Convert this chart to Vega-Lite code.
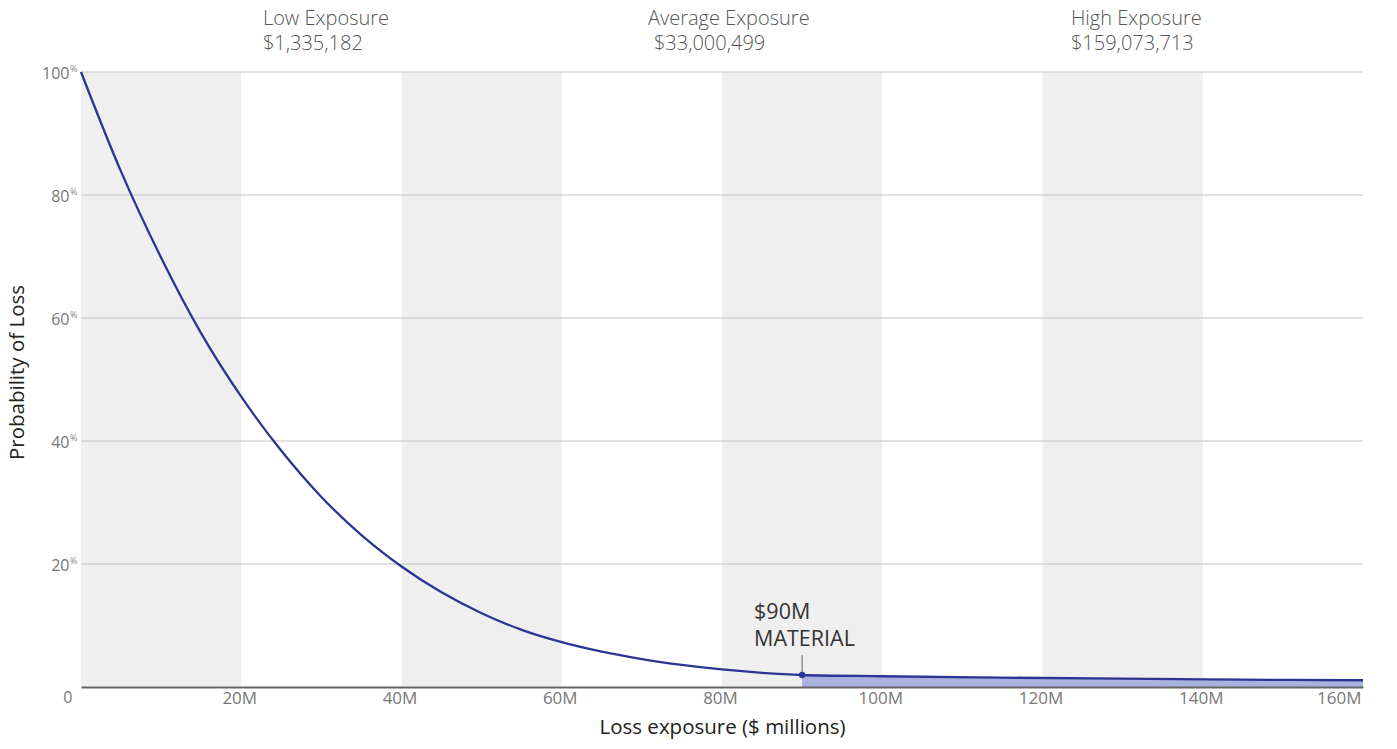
{
  "$schema": "https://vega.github.io/schema/vega-lite/v6.json",
  "width": 1282,
  "height": 615,
  "autosize": {"type": "none"},
  "padding": {"left": 81, "top": 72, "right": 34, "bottom": 62},
  "background": "#ffffff",
  "config": {
    "view": {"stroke": null},
    "font": "Open Sans",
    "text": {"font": "Open Sans"}
  },
  "datasets": {
    "bands": [
      {"start": 0, "end": 20},
      {"start": 40, "end": 60},
      {"start": 80, "end": 100},
      {"start": 120, "end": 140}
    ],
    "gridlines": [
      {"level": 20},
      {"level": 40},
      {"level": 60},
      {"level": 80},
      {"level": 100}
    ],
    "curve": [
      {"loss": 0, "prob": 100},
      {"loss": 5, "prob": 83.8},
      {"loss": 10, "prob": 69.8},
      {"loss": 15, "prob": 57.5},
      {"loss": 20, "prob": 47.2},
      {"loss": 25, "prob": 38.4},
      {"loss": 30, "prob": 30.9},
      {"loss": 35, "prob": 24.7},
      {"loss": 40, "prob": 19.6},
      {"loss": 45, "prob": 15.4},
      {"loss": 50, "prob": 12.0},
      {"loss": 55, "prob": 9.3},
      {"loss": 60, "prob": 7.3},
      {"loss": 65, "prob": 5.75},
      {"loss": 70, "prob": 4.55},
      {"loss": 75, "prob": 3.6},
      {"loss": 80, "prob": 2.85},
      {"loss": 85, "prob": 2.3},
      {"loss": 90, "prob": 1.95},
      {"loss": 100, "prob": 1.75},
      {"loss": 115, "prob": 1.52},
      {"loss": 130, "prob": 1.35},
      {"loss": 145, "prob": 1.2},
      {"loss": 160, "prob": 1.1}
    ],
    "material": [
      {"loss": 90, "prob": 1.95, "top": 5.2}
    ],
    "headers": [
      {"loss": 22.7, "prob": 108.6, "text": "Low Exposure"},
      {"loss": 22.7, "prob": 104.6, "text": "$1,335,182"},
      {"loss": 70.76, "prob": 108.6, "text": "Average Exposure"},
      {"loss": 71.5, "prob": 104.6, "text": "$33,000,499"},
      {"loss": 123.55, "prob": 108.6, "text": "High Exposure"},
      {"loss": 123.55, "prob": 104.6, "text": "$159,073,713"}
    ],
    "materialText": [
      {"loss": 84.0, "prob": 12.0, "text": "$90M"},
      {"loss": 84.0, "prob": 7.6, "text": "MATERIAL"}
    ]
  },
  "layer": [
    {
      "data": {"name": "bands"},
      "mark": {"type": "rect", "color": "#efefef"},
      "encoding": {
        "x": {"field": "start", "type": "quantitative", "scale": {"domain": [0, 160]}},
        "x2": {"field": "end"}
      }
    },
    {
      "data": {"name": "gridlines"},
      "mark": {"type": "rule", "color": "#c4c4c4", "strokeWidth": 1},
      "encoding": {
        "y": {"field": "level", "type": "quantitative", "axis": null}
      }
    },
    {
      "data": {"name": "curve"},
      "transform": [{"filter": "datum.loss >= 90"}],
      "mark": {"type": "area", "color": "#a9b1de", "interpolate": "monotone"},
      "encoding": {
        "x": {"field": "loss", "type": "quantitative"},
        "y": {
          "field": "prob", "type": "quantitative",
          "scale": {"domain": [0, 100]},
          "axis": {
            "orient": "left",
            "values": [20, 40, 60, 80, 100],
            "labelExpr": "'%'",
            "labelFontSize": 9,
            "labelColor": "#888888",
            "labelPadding": 4,
            "labelOffset": -4,
            "domain": false,
            "ticks": false,
            "grid": false,
            "title": null
          }
        }
      }
    },
    {
      "data": {"name": "curve"},
      "mark": {"type": "line", "color": "#2b3593", "strokeWidth": 2.3, "interpolate": "monotone"},
      "encoding": {
        "x": {
          "field": "loss", "type": "quantitative",
          "axis": {
            "values": [0, 20, 40, 60, 80, 100, 120, 140, 160],
            "labelExpr": "datum.value == 0 ? '' : datum.value + 'M'",
            "labelFontSize": 17,
            "labelColor": "#777777",
            "labelPadding": 3,
            "labelOffset": -2,
            "labelFont": "Open Sans",
            "ticks": false,
            "domainColor": "#666666",
            "domainWidth": 2,
            "grid": false,
            "zindex": 1,
            "title": "Loss exposure ($ millions)",
            "titleFont": "Open Sans",
            "titleFontSize": 20.5,
            "titleFontWeight": "normal",
            "titleColor": "#222222",
            "titlePadding": 11
          }
        },
        "y": {
          "field": "prob", "type": "quantitative",
          "axis": {
            "orient": "left",
            "values": [0, 20, 40, 60, 80, 100],
            "labelFontSize": 16,
            "labelColor": "#777777",
            "labelFont": "Open Sans",
            "labelPadding": {"condition": {"test": "datum.value == 0", "value": 9}, "value": 12},
            "labelOffset": {"condition": {"test": "datum.value == 0", "value": 10}, "value": 1},
            "domain": false,
            "ticks": false,
            "grid": false,
            "title": "Probability of Loss",
            "titleFont": "Open Sans",
            "titleFontSize": 20.5,
            "titleFontWeight": "normal",
            "titleColor": "#222222",
            "titlePadding": 14,
            "titleY": 300
          }
        }
      }
    },
    {
      "data": {"name": "material"},
      "mark": {"type": "rule", "color": "#777777", "strokeWidth": 1.2},
      "encoding": {
        "x": {"field": "loss", "type": "quantitative"},
        "y": {"field": "prob", "type": "quantitative", "axis": null},
        "y2": {"field": "top"}
      }
    },
    {
      "data": {"name": "material"},
      "mark": {"type": "point", "filled": true, "color": "#2b3593", "size": 40, "opacity": 1},
      "encoding": {
        "x": {"field": "loss", "type": "quantitative"},
        "y": {"field": "prob", "type": "quantitative", "axis": null}
      }
    },
    {
      "data": {"name": "materialText"},
      "mark": {"type": "text", "align": "left", "baseline": "middle", "fontSize": 21.5, "color": "#333333", "font": "Open Sans"},
      "encoding": {
        "x": {"field": "loss", "type": "quantitative"},
        "y": {"field": "prob", "type": "quantitative", "axis": null},
        "text": {"field": "text"}
      }
    },
    {
      "data": {"name": "headers"},
      "mark": {"type": "text", "align": "left", "baseline": "middle", "fontSize": 20, "fontWeight": 300, "color": "#555555", "font": "Open Sans", "clip": false},
      "encoding": {
        "x": {"field": "loss", "type": "quantitative"},
        "y": {"field": "prob", "type": "quantitative", "axis": null},
        "text": {"field": "text"}
      }
    }
  ],
  "resolve": {"axis": {"y": "independent"}}
}
